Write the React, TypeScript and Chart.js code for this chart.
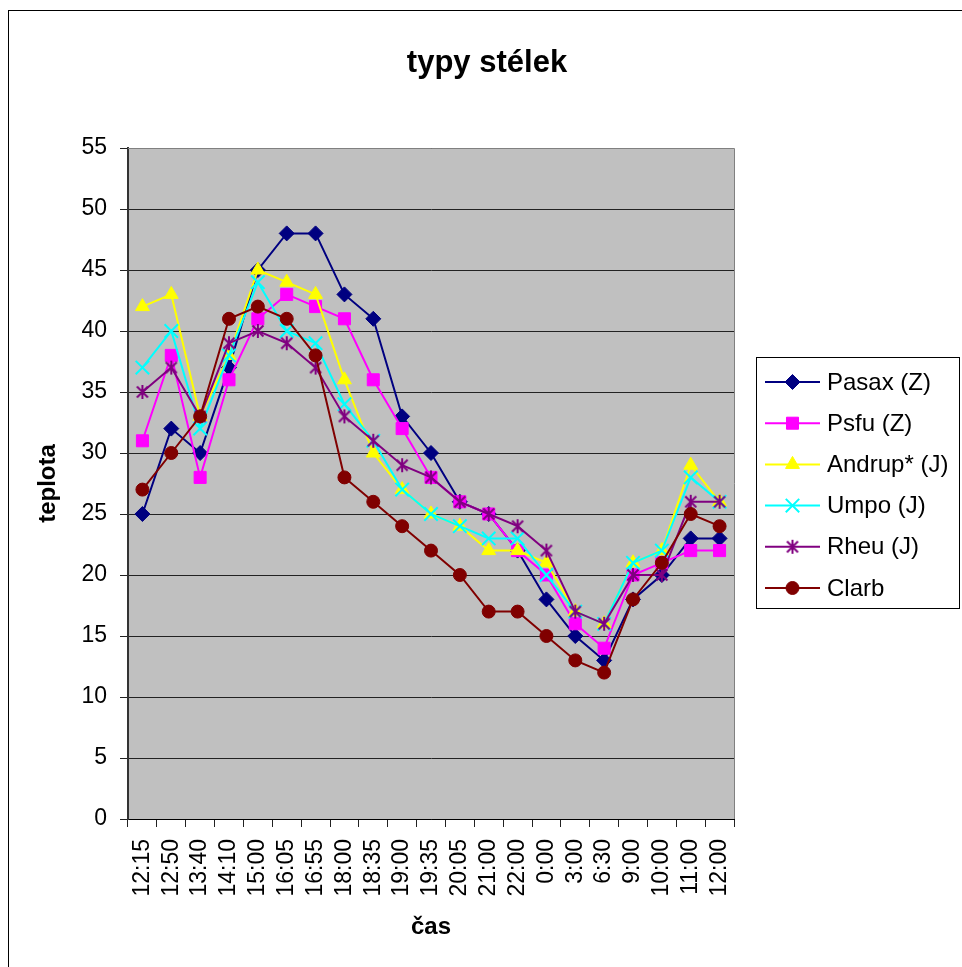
import React, { useEffect, useRef } from 'react';
import { Chart, registerables } from 'chart.js';
import { drawPoint } from 'chart.js/helpers';

Chart.register(...registerables);

// Measurement times (x categories)
const times = [
  '12:15', '12:50', '13:40', '14:10', '15:00', '16:05', '16:55', '18:00', '18:35', '19:00',
  '19:35', '20:05', '21:00', '22:00', '0:00', '3:00', '6:30', '9:00', '10:00', '11:00', '12:00',
];

// Temperatures per lichen type
const pasax = [25, 32, 30, 37, 45, 48, 48, 43, 41, 33, 30, 26, 25, 22, 18, 15, 13, 18, 20, 23, 23];
const psfu = [31, 38, 28, 36, 41, 43, 42, 41, 36, 32, 28, 26, 25, 22, 20, 16, 14, 20, 21, 22, 22];
const andrup = [42, 43, 33, 38, 45, 44, 43, 36, 30, 27, 25, 24, 22, 22, 21, 17, 16, 21, 22, 29, 26];
const umpo = [37, 40, 32, 38, 44, 40, 39, 34, 31, 27, 25, 24, 23, 23, 20, 17, 16, 21, 22, 28, 26];
const rheu = [35, 37, 33, 39, 40, 39, 37, 33, 31, 29, 28, 26, 25, 24, 22, 17, 16, 20, 20, 26, 26];
const clarb = [27, 30, 33, 41, 42, 41, 38, 28, 26, 24, 22, 20, 17, 17, 15, 13, 12, 18, 21, 25, 24];

const seriesNames = ['Pasax (Z)', 'Psfu (Z)', 'Andrup* (J)', 'Umpo (J)', 'Rheu (J)', 'Clarb'];
const seriesValues = [pasax, psfu, andrup, umpo, rheu, clarb];
const seriesColors = ['#000080', '#FF00FF', '#FFFF00', '#00FFFF', '#800080', '#800000'];

// Y axis range
const yMin = 0;
const yMax = 55;
const yStep = 5;

const chartTitle = 'typy stélek';
const xTitle = 'čas';
const yTitle = 'teplota';

const FONT = "Arial, 'Liberation Sans', sans-serif";

// Six-armed asterisk marker (X with a vertical bar)
function makeAsterisk(color: string): HTMLCanvasElement {
  const c = document.createElement('canvas');
  c.width = 16;
  c.height = 16;
  const g = c.getContext('2d')!;
  g.strokeStyle = color;
  g.lineWidth = 2;
  g.beginPath();
  g.moveTo(8, 1);
  g.lineTo(8, 15);
  g.moveTo(2.5, 2.5);
  g.lineTo(13.5, 13.5);
  g.moveTo(13.5, 2.5);
  g.lineTo(2.5, 13.5);
  g.stroke();
  return c;
}

const decorPlugin = {
  id: 'decor',
  beforeDraw(chart: any) {
    const { ctx, chartArea: a } = chart;
    ctx.save();
    ctx.fillStyle = '#FFFFFF';
    ctx.fillRect(0, 0, chart.width, chart.height);
    ctx.fillStyle = '#C0C0C0';
    ctx.fillRect(a.left, a.top, a.right - a.left, a.bottom - a.top);
    // outer frame
    ctx.strokeStyle = '#000000';
    ctx.lineWidth = 1;
    ctx.strokeRect(8.5, 10.5, chart.width + 20, chart.height + 20);
    // title
    ctx.fillStyle = '#000000';
    ctx.font = `bold 31px ${FONT}`;
    ctx.textAlign = 'center';
    ctx.textBaseline = 'alphabetic';
    ctx.fillText(chartTitle, 487, 72);
    ctx.restore();
  },
  beforeDatasetsDraw(chart: any) {
    const { ctx, chartArea: a } = chart;
    ctx.save();
    ctx.strokeStyle = '#808080';
    ctx.lineWidth = 1;
    ctx.beginPath();
    ctx.moveTo(a.left, Math.round(a.top) + 0.5);
    ctx.lineTo(Math.round(a.right) + 0.5, Math.round(a.top) + 0.5);
    ctx.lineTo(Math.round(a.right) + 0.5, a.bottom);
    ctx.stroke();
    ctx.restore();
  },
  afterDraw(chart: any) {
    const { ctx } = chart;
    const boxL = 756, boxT = 357, boxW = 203, boxH = 251;
    ctx.save();
    ctx.strokeStyle = '#000000';
    ctx.lineWidth = 1;
    ctx.strokeRect(boxL + 0.5, boxT + 0.5, boxW, boxH);
    chart.data.datasets.forEach((ds: any, i: number) => {
      const y = 382 + i * 41.2;
      ctx.strokeStyle = ds.borderColor;
      ctx.lineWidth = 2;
      ctx.beginPath();
      ctx.moveTo(765, y);
      ctx.lineTo(820, y);
      ctx.stroke();
      ctx.fillStyle = ds.pointBackgroundColor;
      ctx.strokeStyle = ds.pointBorderColor;
      ctx.lineWidth = ds.pointBorderWidth;
      drawPoint(ctx, {
        pointStyle: ds.pointStyle,
        radius: ds.pointRadius,
        rotation: 0,
        borderWidth: ds.pointBorderWidth,
      } as any, 792.5, y);
      ctx.fillStyle = '#000000';
      ctx.font = `24px ${FONT}`;
      ctx.textAlign = 'left';
      ctx.textBaseline = 'middle';
      ctx.fillText(ds.label, 827, y + 1);
    });
    ctx.restore();
  },
};

export default function App() {
  const canvasRef = useRef<HTMLCanvasElement | null>(null);

  useEffect(() => {
    const canvas = canvasRef.current;
    if (!canvas) return;

    const markers: any[] = [
      { pointStyle: 'rectRot', pointRadius: 7.5, pointBorderWidth: 1 },
      { pointStyle: 'rect', pointRadius: 8.5, pointBorderWidth: 1 },
      { pointStyle: 'triangle', pointRadius: 8, pointBorderWidth: 1 },
      { pointStyle: 'crossRot', pointRadius: 9.5, pointBorderWidth: 2 },
      { pointStyle: makeAsterisk(seriesColors[4]), pointRadius: 8, pointBorderWidth: 2 },
      { pointStyle: 'circle', pointRadius: 6.5, pointBorderWidth: 1 },
    ];

    const datasets = seriesNames.map((name, i) => ({
      label: name,
      data: seriesValues[i],
      borderColor: seriesColors[i],
      backgroundColor: seriesColors[i],
      pointBackgroundColor: seriesColors[i],
      pointBorderColor: seriesColors[i],
      borderWidth: 2,
      tension: 0,
      fill: false,
      order: seriesNames.length - 1 - i,
      ...markers[i],
    }));

    const chart = new Chart(canvas, {
      type: 'line',
      data: { labels: times, datasets },
      options: {
        responsive: false,
        animation: false,
        events: [],
        layout: {
          padding: { left: 0, top: 148, right: 228, bottom: 0 },
          autoPadding: false,
        },
        plugins: {
          legend: { display: false },
          title: { display: false },
          tooltip: { enabled: false },
        },
        scales: {
          x: {
            type: 'category',
            offset: true,
            grid: {
              offset: true,
              drawOnChartArea: false,
              drawTicks: true,
              tickLength: 8,
              color: '#222222',
              lineWidth: 1,
            },
            border: { display: true, color: '#000000', width: 1 },
            ticks: {
              autoSkip: false,
              minRotation: 90,
              maxRotation: 90,
              padding: 12,
              color: '#000000',
              font: { family: FONT, size: 23 },
            },
            title: {
              display: true,
              text: xTitle,
              color: '#000000',
              font: { family: FONT, size: 24, weight: 'bold' },
              padding: { top: 0, bottom: 25 },
            },
            afterFit: (s: any) => {
              s.height = 148;
            },
          },
          y: {
            min: yMin,
            max: yMax,
            ticks: {
              stepSize: yStep,
              padding: 13,
              color: '#000000',
              font: { family: FONT, size: 23 },
            },
            grid: {
              color: '#222222',
              lineWidth: 1,
              drawTicks: true,
              tickLength: 8,
            },
            border: { display: true, color: '#333333', width: 2 },
            title: {
              display: true,
              text: yTitle,
              color: '#000000',
              font: { family: FONT, size: 24, weight: 'bold' },
              padding: { top: 34, bottom: 0 },
            },
            afterFit: (s: any) => {
              s.width = 128;
            },
          },
        },
      } as any,
      plugins: [decorPlugin],
    });

    return () => {
      chart.destroy();
    };
  }, []);

  return (
    <canvas
      ref={canvasRef}
      width={962}
      height={967}
      style={{ position: 'absolute', left: 0, top: 0, width: 962, height: 967 }}
    />
  );
}
